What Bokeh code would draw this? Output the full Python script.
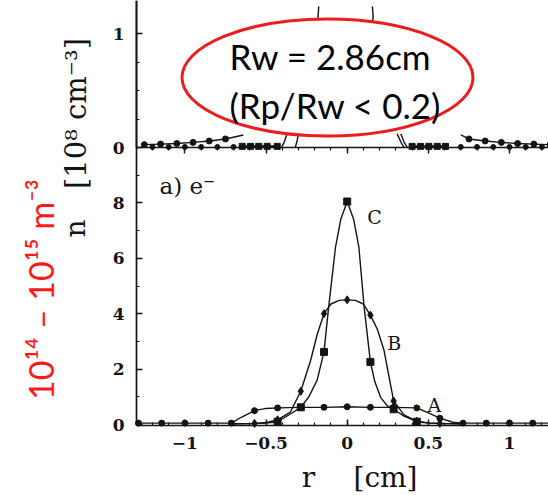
from math import pi
from bokeh.plotting import figure
from bokeh.models import Range1d, LinearAxis, FixedTicker, Label, CustomJSTickFormatter
from bokeh.embed import file_html
from bokeh.resources import INLINE

# ---------------- data ----------------
# bottom panel: n [10^8 cm^-3] versus r [cm]
A_R = [-1.286, -1.143, -1.0, -0.857, -0.714, -0.65, -0.571, -0.5, -0.429, -0.286, -0.143, 0.0,
       0.143, 0.286, 0.429, 0.5, 0.571, 0.65, 0.714, 0.857, 1.0, 1.143, 1.286]
A_N = [0.05, 0.05, 0.05, 0.05, 0.05, 0.27, 0.5, 0.58, 0.6, 0.62, 0.62, 0.64,
       0.62, 0.62, 0.6, 0.42, 0.23, 0.08, 0.05, 0.05, 0.05, 0.05, 0.05]
A_MARK_R = [-1.286, -1.143, -1.0, -0.857, -0.714, -0.571, -0.429, -0.286, -0.143, 0.0,
            0.143, 0.286, 0.429, 0.571, 0.714, 0.857, 1.0, 1.143, 1.286]
A_MARK_N = [0.05, 0.05, 0.05, 0.05, 0.05, 0.5, 0.6, 0.62, 0.62, 0.64,
            0.62, 0.62, 0.6, 0.23, 0.05, 0.05, 0.05, 0.05, 0.05]

B_R = [-0.714, -0.571, -0.5, -0.429, -0.35, -0.286, -0.226, -0.185, -0.143, -0.1, -0.05, 0.0,
       0.05, 0.1, 0.143, 0.185, 0.226, 0.286, 0.35, 0.429, 0.5, 0.571, 0.714]
B_N = [0.03, 0.04, 0.07, 0.17, 0.45, 1.2, 2.3, 3.25, 4.0, 4.35, 4.48, 4.5,
       4.48, 4.35, 3.95, 3.45, 2.7, 0.85, 0.35, 0.12, 0.06, 0.04, 0.03]
B_MARK_R = [-0.571, -0.429, -0.286, -0.143, 0.0, 0.143, 0.286, 0.429, 0.571]
B_MARK_N = [0.04, 0.17, 1.2, 4.0, 4.5, 3.95, 0.85, 0.12, 0.04]

C_R = [-0.714, -0.571, -0.5, -0.429, -0.35, -0.286, -0.236, -0.185, -0.143, -0.115, -0.072, -0.04, 0.0,
       0.04, 0.072, 0.105, 0.143, 0.17, 0.205, 0.246, 0.286, 0.35, 0.429, 0.5, 0.571, 0.714]
C_N = [0.02, 0.03, 0.05, 0.1, 0.38, 0.62, 1.0, 1.6, 2.62, 4.2, 6.4, 7.4, 8.05,
       7.4, 6.4, 4.2, 2.26, 1.55, 0.99, 0.68, 0.55, 0.3, 0.1, 0.05, 0.03, 0.02]
C_MARK_R = [-0.429, -0.286, -0.143, 0.0, 0.143, 0.286, 0.429]
C_MARK_N = [0.1, 0.62, 2.62, 8.05, 2.26, 0.55, 0.1]

# top panel (partly hidden behind the annotation)
TOP_E_LEFT_R = [-1.25, -1.15, -1.05, -0.95, -0.85, -0.75, -0.64]
TOP_E_LEFT_N = [0.025, 0.03, 0.035, 0.045, 0.057, 0.075, 0.11]
TOP_E_RIGHT_R = [0.70, 0.75, 0.85, 0.95, 1.05, 1.15, 1.25]
TOP_E_RIGHT_N = [0.11, 0.075, 0.057, 0.045, 0.035, 0.03, 0.025]
TOP_D_R = [-1.2, -1.1, -1.0, -0.9, -0.8, -0.7, 0.7, 0.8, 0.9, 1.0, 1.1, 1.2]
TOP_D_N = [0.005] * 12
TOP_F_LEFT_R = [-0.647, -0.596, -0.545, -0.493, -0.431]
TOP_F_RIGHT_R = [0.40, 0.452, 0.503, 0.555, 0.606]
TOP_F_N = [0.01, 0.01, 0.01, 0.01, 0.01]
TOP_G1_R, TOP_G1_N = [-0.405, -0.39, -0.37], [0.0, 0.04, 0.12]
TOP_G2_R, TOP_G2_N = [-0.32, -0.31, -0.30], [0.0, 0.05, 0.12]
TOP_G3_R, TOP_G3_N = [0.308, 0.33, 0.35], [0.12, 0.05, 0.0]
TOP_G4_R, TOP_G4_N = [0.33, 0.35, 0.37], [0.12, 0.05, 0.0]
TOP_H1_R, TOP_H1_N = [-0.16, -0.18, -0.175], [0.95, 1.15, 1.24]
TOP_H2_R, TOP_H2_N = [0.14, 0.16, 0.155], [0.95, 1.15, 1.24]

# axes ticks
X_TICKS = [-1.0, -0.5, 0.0, 0.5, 1.0]
X_MINOR = [round(-1.2 + 0.1 * i, 2) for i in range(25)]
Y_TICKS = [0, 2, 4, 6, 8]
Y_MINOR = [1, 3, 5, 7, 9]
TOP_TICKS = [0, 1]
TOP_MINOR = [0.25, 0.5, 0.75]

# ---------------- layout constants (pixels, canvas = picture) ----------------
W, H = 548, 495
AX_LEFT_PX = 136        # left axis line
AX_BOTTOM_PX = 424.5    # bottom axis line
Y0_PX = 424             # n = 0 of bottom panel
PX_N = 27.7             # px per unit, bottom panel
BOUND_PX = Y0_PX - 10 * PX_N   # border between panels (n = 10)
PX_T = 113.8            # px per unit, top panel
PX_R = 162.3
R0_PX = 346.7

# the frame fills the whole canvas; axes are drawn at fixed locations inside it
x_range = Range1d(-R0_PX / PX_R, (W - R0_PX) / PX_R)
y_range = Range1d(-(H - Y0_PX) / PX_N, Y0_PX / PX_N)
top_range = Range1d(-(H - BOUND_PX) / PX_T, BOUND_PX / PX_T)
X_AX = (AX_LEFT_PX - R0_PX) / PX_R
Y_AX = -(AX_BOTTOM_PX - Y0_PX) / PX_N

p = figure(width=W, height=H, x_range=x_range, y_range=y_range,
           output_backend="svg", toolbar_location=None, title=None,
           x_axis_location=None, y_axis_location=None,
           min_border_left=0, min_border_right=0, min_border_top=0, min_border_bottom=0)
p.extra_y_ranges = {"top": top_range}
p.outline_line_color = None
p.background_fill_color = "white"
p.border_fill_color = "white"
p.grid.grid_line_color = None

TICK_FONT = "DejaVu Serif"
INK = "#141414"


def style(ax, labels=True):
    ax.axis_line_color = INK
    ax.axis_line_width = 1.7
    ax.major_tick_line_color = INK
    ax.minor_tick_line_color = INK
    ax.major_tick_line_width = 1.5
    ax.minor_tick_line_width = 1.2
    ax.major_tick_in = 6
    ax.major_tick_out = 0
    ax.minor_tick_in = 3
    ax.minor_tick_out = 0
    ax.major_label_text_font = TICK_FONT
    ax.major_label_text_font_size = "17px"
    ax.major_label_text_font_style = "bold"
    ax.major_label_text_color = INK
    ax.formatter = CustomJSTickFormatter(
        code="return tick.toString().replace('-', '\u2212')" if labels else "return ''")


xb = LinearAxis(ticker=FixedTicker(ticks=X_TICKS, minor_ticks=X_MINOR),
                fixed_location=Y_AX, bounds=(X_AX, x_range.end))
style(xb)
xb.major_label_standoff = 12
p.add_layout(xb, "below")

xa = LinearAxis(ticker=FixedTicker(ticks=X_TICKS, minor_ticks=X_MINOR),
                fixed_location=10, bounds=(X_AX, x_range.end))
style(xa, labels=False)
p.add_layout(xa, "above")

yl = LinearAxis(ticker=FixedTicker(ticks=Y_TICKS, minor_ticks=Y_MINOR),
                fixed_location=X_AX, bounds=(Y_AX, y_range.end))
style(yl)
yl.major_label_standoff = 12
p.add_layout(yl, "left")

yt = LinearAxis(y_range_name="top", ticker=FixedTicker(ticks=TOP_TICKS, minor_ticks=TOP_MINOR),
                fixed_location=X_AX, bounds=(0, top_range.end))
style(yt)
yt.major_label_standoff = 12
p.add_layout(yt, "left")

# ---------------- bottom panel curves ----------------
LW = 1.4
p.line(A_R, A_N, line_color=INK, line_width=LW)
p.scatter(A_MARK_R, A_MARK_N, marker="circle", size=6, color=INK)
p.line(B_R, B_N, line_color=INK, line_width=LW)
p.scatter(B_MARK_R, B_MARK_N, marker="diamond", size=8, color=INK)
p.line(C_R, C_N, line_color=INK, line_width=LW)
p.scatter(C_MARK_R, C_MARK_N, marker="square", size=7, color=INK)

# ---------------- top panel curves ----------------
for rr, nn in [(TOP_E_LEFT_R, TOP_E_LEFT_N), (TOP_E_RIGHT_R, TOP_E_RIGHT_N),
               (TOP_G1_R, TOP_G1_N), (TOP_G2_R, TOP_G2_N), (TOP_G3_R, TOP_G3_N),
               (TOP_G4_R, TOP_G4_N), (TOP_H1_R, TOP_H1_N), (TOP_H2_R, TOP_H2_N)]:
    p.line(rr, nn, line_color=INK, line_width=LW, y_range_name="top")
p.scatter(TOP_E_LEFT_R[:-1], TOP_E_LEFT_N[:-1], marker="circle", size=6, color=INK, y_range_name="top")
p.scatter(TOP_E_RIGHT_R[1:], TOP_E_RIGHT_N[1:], marker="circle", size=6, color=INK, y_range_name="top")
p.scatter(TOP_D_R, TOP_D_N, marker="circle", size=5, color=INK, y_range_name="top")
p.line(TOP_F_LEFT_R, TOP_F_N, line_color=INK, line_width=2, y_range_name="top")
p.line(TOP_F_RIGHT_R, TOP_F_N, line_color=INK, line_width=2, y_range_name="top")
p.scatter(TOP_F_LEFT_R, TOP_F_N, marker="square", size=6, color=INK, y_range_name="top")
p.scatter(TOP_F_RIGHT_R, TOP_F_N, marker="square", size=6, color=INK, y_range_name="top")

# ---------------- annotation ellipse ----------------
ELL_X = (327 - R0_PX) / PX_R
ELL_Y = (BOUND_PX - 77) / PX_T
p.ellipse(x=[ELL_X], y=[ELL_Y], width=291, height=117, width_units="screen",
          height_units="screen", fill_color="white", line_color="#ee1c1c",
          line_width=3, y_range_name="top")


def lab(text, px, py, **kw):
    # px, py: picture pixels from the top-left corner
    opts = dict(x=px, y=H - py, x_units="screen", y_units="screen", text=text)
    opts.update(kw)
    p.add_layout(Label(**opts))


lab("Rw = 2.86cm", 229, 55, text_font="Lato", text_font_size="35px",
    text_color="black", text_baseline="alphabetic", text_align="left")
lab("(Rp/Rw < 0.2)", 229, 104, text_font="Lato", text_font_size="35px",
    text_color="black", text_baseline="alphabetic", text_align="left")

lab("10\u00b9\u2074 \u2013 10\u00b9\u2075 m\u207b\u00b3", 40, 289, angle=pi / 2,
    text_font="Lato", text_font_size="34px", text_color="#ff1a1a",
    text_align="center", text_baseline="alphabetic")

# y-axis title, spanning both panels
lab("n", 75, 228, angle=pi / 2, text_font="DejaVu Serif", text_font_size="28px",
    text_color=INK, text_align="center", text_baseline="alphabetic")
lab("[10\u2078 cm\u207b\u00b3]", 75, 113, angle=pi / 2, text_font="DejaVu Serif",
    text_font_size="29px", text_color=INK, text_align="center", text_baseline="alphabetic")

# x-axis title
lab("r", 308, 477, text_font="DejaVu Serif", text_font_size="28px",
    text_color=INK, text_align="center", text_baseline="middle")
lab("[cm]", 385, 477, text_font="DejaVu Serif", text_font_size="28px",
    text_color=INK, text_align="center", text_baseline="middle")

# panel and curve labels (data coordinates)
p.add_layout(Label(x=-1.157, y=8.6, text="a)  e\u207b", text_font="DejaVu Serif",
                   text_font_size="23px", text_color=INK, text_baseline="middle"))
for t, rx, ny in [("C", 0.168, 7.5), ("B", 0.29, 2.95), ("A", 0.537, 0.72)]:
    p.add_layout(Label(x=rx, y=ny, text=t, text_font="DejaVu Serif", text_font_size="19px",
                       text_color=INK, text_align="center", text_baseline="middle"))

open("out.html", "w").write(file_html(p, INLINE))
